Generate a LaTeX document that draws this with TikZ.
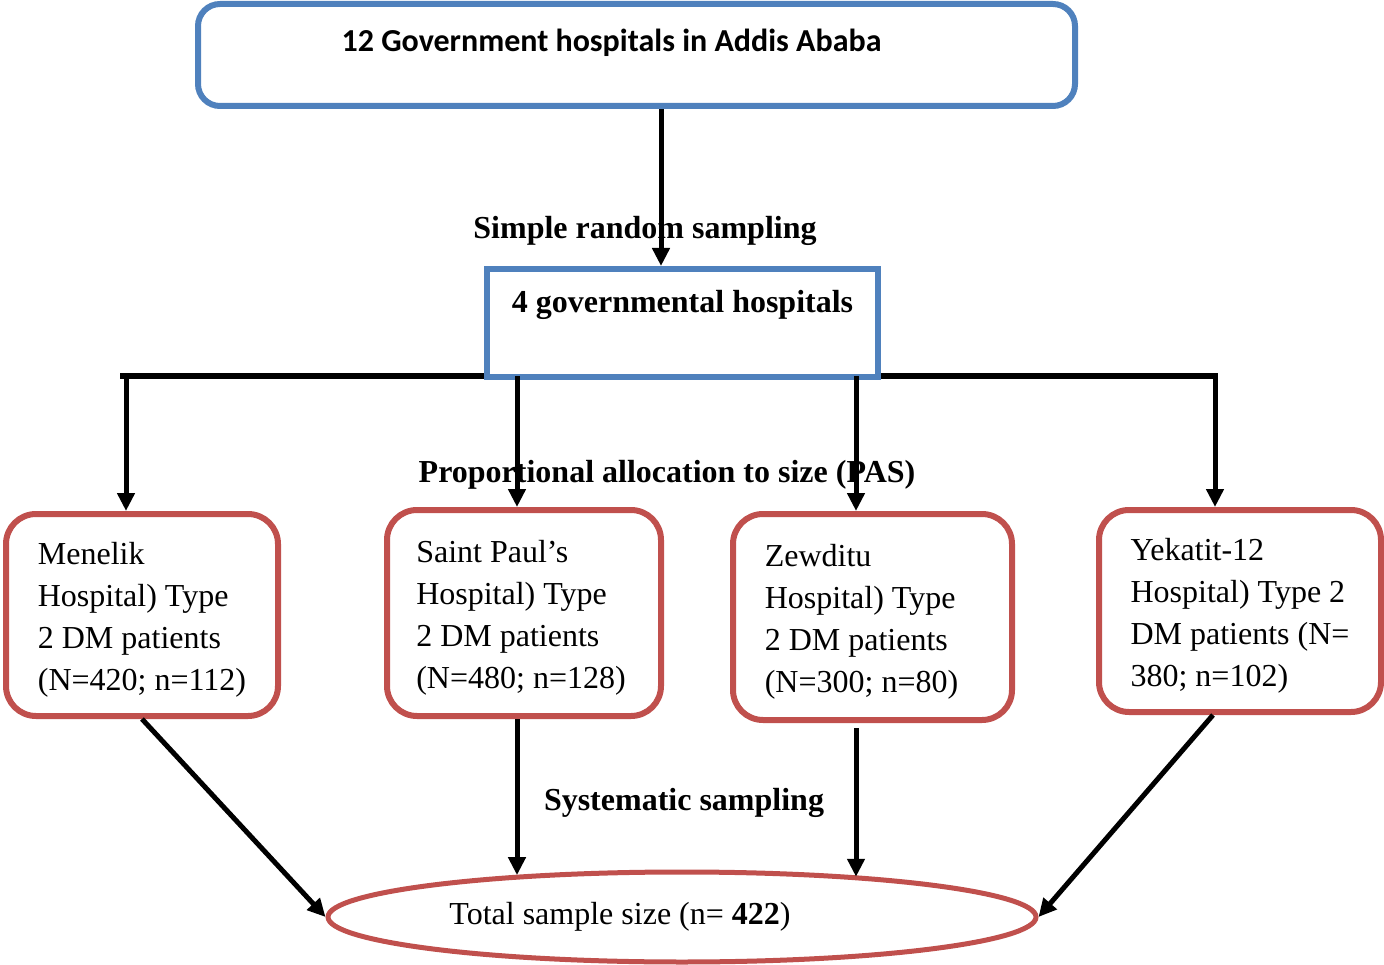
\documentclass[tikz,border=0pt]{standalone}
\usepackage{fontspec}
\setmainfont{Liberation Serif}
\newfontfamily\calfont{Carlito}
\usetikzlibrary{arrows.meta,shapes.geometric}
\definecolor{boxblue}{HTML}{4F81BD}
\definecolor{boxred}{HTML}{C0504D}
\newcommand\topstrut{\rule{0pt}{32pt}}
\begin{document}
\begin{tikzpicture}[x=1pt,y=-1pt,
  arr/.style={line width=5pt,-{Triangle[length=18pt,width=17pt]}},
  bluebox/.style={draw=boxblue,line width=6pt,inner sep=0pt},
  redbox/.style={draw=boxred,line width=6pt,rounded corners=30pt,align=left,inner sep=0pt,font=\fontsize{32}{42}\selectfont},
  lab/.style={font=\fontsize{32}{38}\selectfont\bfseries}]
\useasboundingbox (0,0) rectangle (1384,965);
% horizontal distribution line
\coordinate (hl) at (123,376);
\coordinate (hr) at (1215,376);
\draw[line width=6pt,line cap=rect] (hl) -- (hr);
% boxes
\node[bluebox,rounded corners=22pt,minimum width=877pt,text height=48pt,text depth=54pt,font=\calfont\bfseries\fontsize{32}{38}\selectfont] (top) at (636.5,55) {12 Government hospitals in Addis Ababa\hspace*{50pt}};
\node[bluebox,fill=white,minimum width=391pt,text height=44pt,text depth=64pt,lab] (mid) at (682.5,323) {4 governmental hospitals};
\node[redbox,minimum width=272pt,minimum height=202pt] (men) at (142,615) {\topstrut Menelik\\Hospital) Type\\2 DM patients\\(N=420; n=112)};
\node[redbox,minimum width=274pt,minimum height=206pt] (stp) at (524,613) {\topstrut Saint Paul’s\\Hospital) Type\\2 DM patients\\(N=480; n=128)\hspace*{6pt}};
\node[redbox,minimum width=279pt,minimum height=206pt] (zew) at (872.5,617) {\topstrut Zewditu\\Hospital) Type\\2 DM patients\\(N=300; n=80)\hspace*{22pt}};
\node[redbox,minimum width=282pt,minimum height=202pt] (yek) at (1240,611) {\topstrut Yekatit-12\\Hospital) Type 2\\DM patients (N=\\380; n=102)};
\node[draw=boxred,line width=5pt,ellipse,minimum width=708pt,minimum height=90pt,inner sep=0pt,font=\fontsize{32}{38}\selectfont] (tot) at (682,917) {Total sample size (n= \textbf{422})\hspace*{124pt}};
% labels
\node[lab] (srs) at (645,231) {Simple random sampling};
\node[lab] (pas) at (667,475) {Proportional allocation to size (PAS)};
\node[lab] (sys) at (684,803) {Systematic sampling};
% connectors
\coordinate (t1) at ([xshift=24.5pt]top.south);
\draw[arr] (t1) -- (t1 |- mid.north);
\coordinate (d1) at (126,376);
\coordinate (d2) at (517,376);
\coordinate (d3) at (856,376);
\coordinate (d4) at (1215,376);
\draw[arr] (d1) -- (d1 |- men.north);
\draw[arr] (d2) -- (d2 |- stp.north);
\draw[arr] (d3) -- (d3 |- zew.north);
\draw[arr] (d4) -- (d4 |- yek.north);
\draw[arr] (men.south) -- (tot.west);
\coordinate (s2) at ([xshift=-7pt]stp.south);
\draw[arr] (s2) -- (s2 |- tot.166.4);
\coordinate (s3) at ([xshift=-16.5pt,yshift=-5pt]zew.south);
\draw[arr] (s3) -- (s3 |- tot.12.7);
\draw[arr] ([xshift=-27pt]yek.south) -- (tot.east);
\end{tikzpicture}
\end{document}
